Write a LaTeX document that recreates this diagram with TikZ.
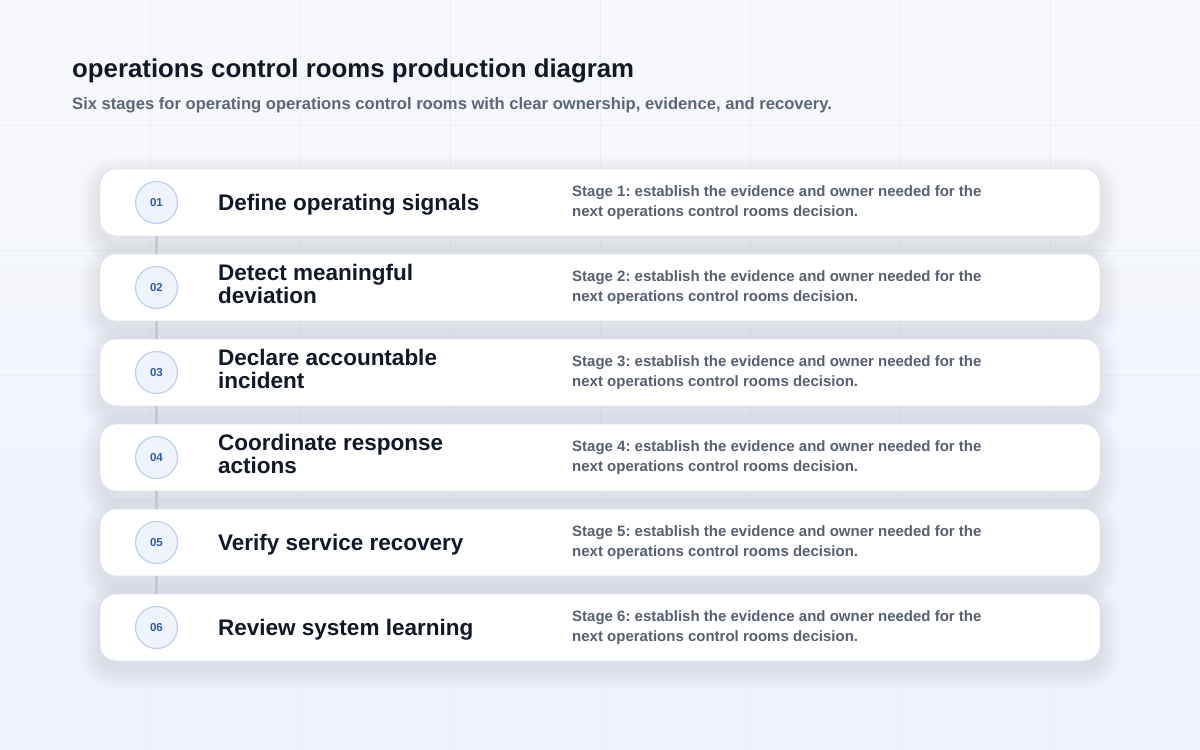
\documentclass[tikz,border=0pt]{standalone}
\usepackage{fontspec}
\setmainfont{Liberation Sans}
\frenchspacing
\definecolor{bgtop}{HTML}{F8F9FC}
\definecolor{bgbot}{HTML}{EDF2FB}
\definecolor{gridline}{HTML}{ECEFF5}
\definecolor{ink}{HTML}{111827}
\definecolor{muted}{HTML}{5B6678}
\definecolor{desc}{HTML}{566071}
\definecolor{cardline}{HTML}{DDE3EC}
\definecolor{shadowcol}{HTML}{1E2A4A}
\definecolor{badgefill}{HTML}{EEF3FC}
\definecolor{badgeline}{HTML}{BCD0F0}
\definecolor{badgetext}{HTML}{2F5AAE}
\definecolor{linkgray}{HTML}{C3C8D1}
\begin{document}
\begin{tikzpicture}[x=1pt,y=-1pt,
	card/.style={draw=cardline,line width=0.8pt,fill=white,rounded corners=16pt,minimum width=1000pt,minimum height=67pt,inner sep=0pt},
	badge/.style={circle,draw=badgeline,fill=badgefill,line width=1.2pt,minimum size=42pt,inner sep=0pt,text=badgetext,font=\bfseries\fontsize{11.5}{11.5}\selectfont},
	stagetitle/.style={anchor=west,align=left,text=ink,font=\bfseries\fontsize{22.5}{23}\selectfont,inner sep=0pt},
	stagedesc/.style={anchor=west,align=left,text=desc,font=\bfseries\fontsize{15}{19.5}\selectfont,inner sep=0pt},
	link/.style={draw=linkgray,line width=3pt}]
	% background and faint grid
	\shade[top color=bgtop,bottom color=bgbot] (0,0) rectangle (1200,750);
	\useasboundingbox (0,0) rectangle (1200,750);
	\foreach \gx in {150,300,...,1050}{\draw[gridline,line width=0.6pt] (\gx,0)--(\gx,750);}
	\foreach \gy in {125,250,...,625}{\draw[gridline,line width=0.6pt] (0,\gy)--(1200,\gy);}
	% heading
	\node[anchor=base west,inner sep=0pt,text=ink,font=\bfseries\fontsize{25.8}{28}\selectfont] (title) at (72,77) {operations control rooms production diagram};
	\node[anchor=base west,inner sep=0pt,text=muted,font=\bfseries\fontsize{16.6}{18}\selectfont] (subtitle) at (72,109) {Six stages for operating operations control rooms with clear ownership, evidence, and recovery.};
	% soft shadows under the cards
	\foreach \i in {1,...,6}{
		\foreach \s in {2,4,...,20}{\fill[shadowcol,opacity=0.006,rounded corners={16pt+\s pt}] (100-\s,{169+85*(\i-1)+8-\s}) rectangle (1100+\s,{236+85*(\i-1)+8+\s});}
	}
	% stage cards
	\foreach \i/\dy/\ttl in {1/2/{Define operating signals},2/-4/{Detect meaningful\\deviation},3/-4/{Declare accountable\\incident},4/-4/{Coordinate response\\actions},5/2/{Verify service recovery},6/2/{Review system learning}}{
		\node[card] (card\i) at (600,{202.5+85*(\i-1)}) {};
		\node[badge] (b\i) at (156.5,{202.5+85*(\i-1)}) {0\i};
		\node[stagetitle] (t\i) at (218,{202.5+\dy+85*(\i-1)}) {\ttl};
		\node[stagedesc] (d\i) at (572,{202.5+85*(\i-1)}) {Stage \i: establish the evidence and owner needed for the\\next operations control rooms decision.};
	}
	% connectors between cards
	\foreach \i/\j in {1/2,2/3,3/4,4/5,5/6}{\draw[link] (b\i |- card\i.south)--(b\j |- card\j.north);}
\end{tikzpicture}
\end{document}
